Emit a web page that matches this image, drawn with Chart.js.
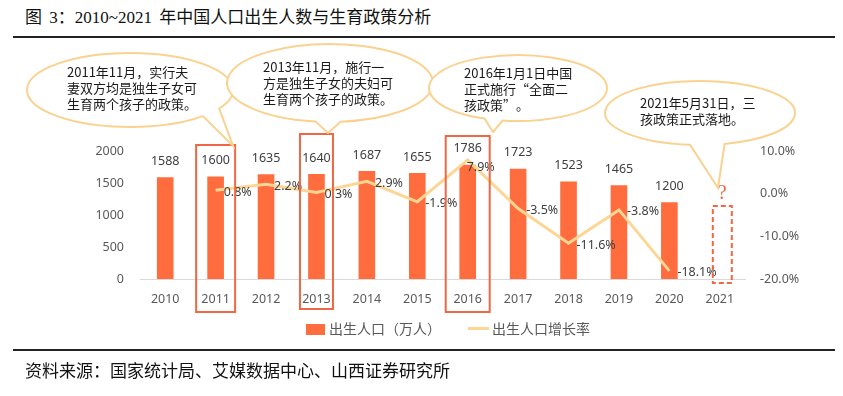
<!DOCTYPE html>
<html>
<head>
<meta charset="utf-8">
<script src="https://cdn.jsdelivr.net/npm/chart.js@4.4.0/dist/chart.umd.min.js"></script>
<style>
  html, body { margin: 0; padding: 0; background: #fff; }
  #wrap { position: relative; width: 843px; height: 396px; overflow: hidden; }
  #title { position: absolute; left: 25px; top: 8px; line-height: 20px; font-size: 17px; word-spacing: 3px;
    font-family: "Liberation Serif", "Noto Sans CJK SC", serif; color: #111; white-space: nowrap; }
  .rule { position: absolute; left: 13px; width: 822px; height: 1.5px; background: #222; }
  #source { position: absolute; left: 25px; top: 360px; line-height: 20px; font-size: 17px;
    font-family: "Noto Sans CJK SC", sans-serif; color: #111; white-space: nowrap; }
  #c { position: absolute; left: 0; top: 0; }
</style>
</head>
<body>
<div id="wrap">
  <div id="title">图 3：2010~2021 年中国人口出生人数与生育政策分析</div>
  <div class="rule" style="top:36px"></div>
  <canvas id="c" width="843" height="396"></canvas>
  <div class="rule" style="top:349px"></div>
  <div id="source">资料来源：国家统计局、艾媒数据中心、山西证券研究所</div>
</div>
<script>
var years = ['2010', '2011', '2012', '2013', '2014', '2015', '2016', '2017', '2018', '2019', '2020', '2021'];
var births = [1588, 1600, 1635, 1640, 1687, 1655, 1786, 1723, 1523, 1465, 1200, null];
var growth = [null, 0.8, 2.2, 0.3, 2.9, -1.9, 7.9, -3.5, -11.6, -3.8, -18.1, null];
var leftTicks = [0, 500, 1000, 1500, 2000];
var rightTicks = [-20, -10, 0, 10];
var seriesNames = ['出生人口（万人）', '出生人口增长率'];
var notes = [
	['2011年11月，实行夫', '妻双方均是独生子女可', '生育两个孩子的政策。'],
	['2013年11月，施行一', '方是独生子女的夫妇可', '生育两个孩子的政策。'],
	['2016年1月1日中国', '正式施行“全面二', '孩政策”。'],
	['2021年5月31日，三', '孩政策正式落地。']
];

var barColor = '#FF6C3D';
var lineColor = '#FDD694';
var boxColor = '#EF6744';
var tickColor = '#595959';

// bubble shapes, in page pixels
var bubbles = [
	{ cx: 130, cy: 90, rx: 103, ry: 37, gap: [30, 45], tip: [233, 146], tx: 67, ty: 72 },
	{ cx: 330, cy: 83, rx: 103, ry: 39, gap: [84, 98], tip: [328, 133], tx: 263, ty: 67 },
	{ cx: 518, cy: 88, rx: 89, ry: 33, gap: [100, 112], tip: [493, 132], tx: 464, ty: 73 },
	{ cx: 700, cy: 113, rx: 95, ry: 32, gap: [75, 96], tip: [718, 188], tx: 640, ty: 103 }
];
// highlighted years: index, half width, top, bottom
var boxes = [
	{ i: 1, w: 19.5, top: 145, bottom: 312 },
	{ i: 3, w: 16.5, top: 134, bottom: 309 },
	{ i: 6, w: 22, top: 136, bottom: 312 }
];

var extras = {
	id: 'extras',
	afterDraw: function(chart) {
		var ctx = chart.ctx;
		var xs = chart.scales.x;
		ctx.save();

		// bar value labels
		ctx.font = '12.5px "Noto Sans", sans-serif';
		ctx.fillStyle = '#404040';
		ctx.textAlign = 'center';
		ctx.textBaseline = 'middle';
		chart.getDatasetMeta(0).data.forEach(function(bar, i) {
			if (births[i] == null) return;
			ctx.fillText(String(births[i]), bar.x, bar.y - 16);
		});

		// growth labels
		ctx.textAlign = 'left';
		chart.getDatasetMeta(1).data.forEach(function(pt, i) {
			if (growth[i] == null) return;
			var dx = 8, dy = 2;
			if (i == 6) { dx = -1; dy = 7; }
			ctx.fillText(growth[i].toFixed(1) + '%', pt.x + dx, pt.y + dy);
		});

		// red boxes
		ctx.strokeStyle = boxColor;
		ctx.lineWidth = 2;
		boxes.forEach(function(b) {
			var x = xs.getPixelForValue(b.i);
			ctx.strokeRect(x - b.w, b.top, b.w * 2, b.bottom - b.top);
		});

		// dashed box for 2021
		var x21 = xs.getPixelForValue(11) + 2.5;
		ctx.setLineDash([5, 3]);
		ctx.strokeRect(x21 - 9.5, 206, 19, 77);
		ctx.setLineDash([]);
		ctx.fillStyle = boxColor;
		ctx.font = '20px "Liberation Serif", serif';
		ctx.textAlign = 'center';
		ctx.fillText('?', x21, 194);

		// legend
		ctx.font = '14px "Noto Sans CJK SC", sans-serif';
		ctx.textAlign = 'left';
		ctx.fillStyle = barColor;
		ctx.fillRect(306, 324, 19, 11);
		ctx.fillStyle = tickColor;
		ctx.fillText(seriesNames[0], 329, 329);
		ctx.strokeStyle = lineColor;
		ctx.lineWidth = 3;
		ctx.beginPath();
		ctx.moveTo(468, 328.5);
		ctx.lineTo(489, 328.5);
		ctx.stroke();
		ctx.fillText(seriesNames[1], 492, 329);

		// speech bubbles
		bubbles.forEach(function(b, k) {
			var a1 = b.gap[0] * Math.PI / 180, a2 = b.gap[1] * Math.PI / 180;
			ctx.beginPath();
			ctx.ellipse(b.cx, b.cy, b.rx, b.ry, 0, a2, a1 + 2 * Math.PI);
			ctx.lineTo(b.tip[0], b.tip[1]);
			ctx.closePath();
			ctx.fillStyle = '#fff';
			ctx.fill();
			ctx.strokeStyle = '#FAD290';
			ctx.lineWidth = 2;
			ctx.stroke();
			ctx.fillStyle = '#1a1a1a';
			ctx.font = '13px "Noto Sans CJK SC", sans-serif';
			ctx.textAlign = 'left';
			notes[k].forEach(function(line, j) {
				ctx.fillText(line, b.tx, b.ty + j * 16);
			});
		});
		ctx.restore();
	}
};

var tickFont = { family: '"Noto Sans", sans-serif', size: 12.5 };

new Chart(document.getElementById('c'), {
	type: 'bar',
	data: {
		labels: years,
		datasets: [{
			type: 'bar',
			label: seriesNames[0],
			data: births,
			backgroundColor: barColor,
			yAxisID: 'y',
			order: 2,
			barPercentage: 0.33,
			categoryPercentage: 1
		}, {
			type: 'line',
			label: seriesNames[1],
			data: growth,
			borderColor: lineColor,
			backgroundColor: lineColor,
			borderWidth: 3,
			pointRadius: 0,
			tension: 0,
			yAxisID: 'y1',
			order: 1
		}]
	},
	options: {
		responsive: false,
		animation: false,
		layout: { padding: { left: 60, right: 0, top: 151, bottom: 87 } },
		plugins: {
			tooltip: { enabled: false },
			legend: { display: false }
		},
		scales: {
			x: {
				grid: { display: false, drawTicks: false },
				border: { display: true, color: '#D9D9D9', width: 1 },
				ticks: { color: tickColor, font: tickFont, padding: 13, maxRotation: 0 },
				afterFit: function(s) { s.height = 30; }
			},
			y: {
				position: 'left',
				min: 0, max: 2000,
				grid: { display: false, drawTicks: false },
				border: { display: false },
				afterBuildTicks: function(s) { s.ticks = leftTicks.map(function(v) { return { value: v }; }); },
				ticks: { color: tickColor, font: tickFont, padding: 16, callback: function(v) { return String(v); } },
				afterFit: function(s) { s.width = 80; }
			},
			y1: {
				position: 'right',
				min: -20, max: 10,
				grid: { display: false, drawTicks: false },
				border: { display: false },
				afterBuildTicks: function(s) { s.ticks = rightTicks.map(function(v) { return { value: v }; }); },
				ticks: {
					color: tickColor, font: tickFont, padding: 15,
					callback: function(v) { return v.toFixed(1) + '%'; }
				},
				afterFit: function(s) { s.width = 98; }
			}
		}
	},
	plugins: [extras]
});
</script>
</body>
</html>
